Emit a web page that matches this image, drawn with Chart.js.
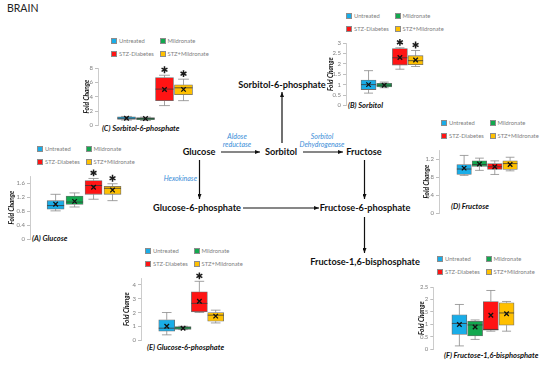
<!DOCTYPE html>
<html>
<head>
<meta charset="utf-8">
<script src="https://cdn.jsdelivr.net/npm/chart.js@4.4.1/dist/chart.umd.min.js"></script>
<style>
  body { margin:0; background:#fff; }
  #wrap { position:relative; width:550px; height:365px; overflow:hidden; font-family:Lato, sans-serif; }
  #wrap canvas, .t, .sw { position:absolute; }
  .t { white-space:nowrap; line-height:1; }
  .c { transform:translate(-50%,-50%); }
  .l { transform:translateY(-50%); }
  .r { transform:translate(-100%,-50%); }
  .node { font-weight:700; font-size:9.2px; color:#111; }
  .enz { font-style:italic; font-size:7px; color:#3b8ed8; }
  .ttl { font-weight:700; font-style:italic; font-size:7.5px; color:#111; }
  .lg { font-size:5.8px; color:#808080; }
  .sw { width:6px; height:6px; box-sizing:border-box; border:0.6px solid #8c8c8c; }
  .brain { font-size:10.5px; color:#222; }
</style>
</head>
<body>
<div id="wrap">
<svg width="550" height="365" style="position:absolute;left:0;top:0">
  <defs>
    <marker id="ah" markerWidth="5" markerHeight="4" refX="5" refY="2" orient="auto" markerUnits="userSpaceOnUse">
      <path d="M0,0 L5,2 L0,4 z" fill="#111"/>
    </marker>
  </defs>
  <g stroke="#111" stroke-width="1.2" marker-end="url(#ah)">
    <line x1="221" y1="152" x2="260" y2="152"/>
    <line x1="303" y1="152" x2="343" y2="152"/>
    <line x1="282" y1="143" x2="282" y2="92"/>
    <line x1="199.5" y1="160" x2="199.5" y2="199"/>
    <line x1="243" y1="208" x2="319" y2="208"/>
    <line x1="364.5" y1="160" x2="364.5" y2="199"/>
    <line x1="364.5" y1="217" x2="364.5" y2="253"/>
  </g>
</svg>
</div>
<script>
const groups = ['Untreated', 'Mildronate', 'STZ-Diabetes', 'STZ+Mildronate'];
const groupColors = ['#19ADE8', '#12A84E', '#FF1414', '#FFC000'];

// each box: [min, q1, median, q3, max]
const glucoseBox = [[0.81,0.86,0.96,1.10,1.28],[0.92,0.99,1.06,1.23,1.32],[1.14,1.28,1.53,1.67,1.73],[1.10,1.28,1.45,1.51,1.58]];
const glucoseMean = [1.0, 1.08, 1.48, 1.40];
const glucoseStar = [0, 0, 1, 1];
const glucoseTicks = [0,0.2,0.4,0.6,0.8,1,1.2,1.4,1.6,1.8];

const sorbitolBox = [[0.59,0.76,1.0,1.22,1.67],[0.85,0.89,0.97,1.06,1.12],[1.74,1.94,2.29,2.73,2.77],[1.87,1.96,2.15,2.39,2.64]];
const sorbitolMean = [1.0, 0.97, 2.30, 2.18];
const sorbitolStar = [0, 0, 1, 1];
const sorbitolTicks = [0,0.5,1,1.5,2,2.5,3];

const s6pBox = [[0.75,0.85,1.0,1.2,1.25],[0.7,0.8,0.95,1.1,1.15],[2.76,3.45,5.06,6.66,6.99],[3.45,4.28,5.24,5.65,6.44]];
const s6pMean = [1.0, 0.95, 5.0, 5.02];
const s6pStar = [0, 0, 1, 1];
const s6pTicks = [0,1,2,3,4,5,6,7,8];

const fructoseBox = [[0.84,0.86,0.98,1.08,1.28],[0.95,1.04,1.08,1.16,1.22],[0.86,0.97,1.03,1.10,1.16],[0.94,0.97,1.10,1.16,1.24]];
const fructoseMean = [1.0, 1.09, 1.03, 1.08];
const fructoseStar = [0, 0, 0, 0];
const fructoseTicks = [0,0.2,0.4,0.6,0.8,1,1.2,1.4];

const g6pBox = [[0.40,0.67,0.88,1.49,2.01],[0.78,0.80,0.90,1.00,1.02],[2.01,2.06,2.67,3.50,4.26],[1.26,1.38,1.82,2.01,2.18]];
const g6pMean = [1.02, 0.88, 2.82, 1.75];
const g6pStar = [0, 0, 1, 0];
const g6pTicks = [0,0.5,1,1.5,2,2.5,3,3.5,4,4.5];

const f16bpBox = [[0.14,0.60,1.04,1.39,1.80],[0.40,0.54,0.98,1.13,1.18],[0.73,0.77,0.80,1.92,2.36],[0.73,0.97,1.46,1.87,1.92]];
const f16bpMean = [1.0, 0.90, 1.37, 1.43];
const f16bpStar = [0, 0, 0, 0];
const f16bpTicks = [0,0.5,1,1.5,2,2.5];

const wrap = document.getElementById('wrap');
function put(txt, x, y, cls) {
  const d = document.createElement('div');
  d.className = 't ' + cls;
  d.textContent = txt;
  d.style.left = x + 'px';
  d.style.top = y + 'px';
  wrap.appendChild(d);
}

// pathway
put('BRAIN', 7, 8, 'brain l');
put('Sorbitol-6-phosphate', 282, 85, 'node c');
put('Glucose', 199, 152, 'node c');
put('Sorbitol', 281, 152, 'node c');
put('Fructose', 364, 152, 'node c');
put('Glucose-6-phosphate', 197, 208, 'node c');
put('Fructose-6-phosphate', 365, 208, 'node c');
put('Fructose-1,6-bisphosphate', 365, 262, 'node c');
put('Aldose', 237, 136, 'enz c');
put('reductase', 237, 144, 'enz c');
put('Sorbitol', 322, 136, 'enz c');
put('Dehydrogenase', 322, 144, 'enz c');
put('Hexokinase', 197, 178, 'enz r');

const panels = [
  {id:'A', box:glucoseBox, mean:glucoseMean, star:glucoseStar, ticks:glucoseTicks, title:'(A) Glucose',
   axisX:30, top:176, zero:240, first:57, gap:20, barW:17, fcX:12, lg:[37,149], tx:32, ty:239},
  {id:'B', box:sorbitolBox, mean:sorbitolMean, star:sorbitolStar, ticks:sorbitolTicks, title:'(B) Sorbitol',
   axisX:346, top:43.3, zero:106.7, first:370, gap:16.7, barW:15, fcX:331, lg:[346,16], tx:348, ty:106},
  {id:'C', box:s6pBox, mean:s6pMean, star:s6pStar, ticks:s6pTicks, title:'(C) Sorbitol-6-phosphate',
   axisX:98, top:68, zero:126, first:128, gap:20, barW:18, fcX:86.5, lg:[111,41], tx:102, ty:129},
  {id:'D', box:fructoseBox, mean:fructoseMean, star:fructoseStar, ticks:fructoseTicks, title:'(D) Fructose',
   axisX:439, top:149.7, zero:213.3, first:465.7, gap:16.3, barW:14.5, fcX:427, lg:[441,123], tx:451, ty:207},
  {id:'E', box:g6pBox, mean:g6pMean, star:g6pStar, ticks:g6pTicks, title:'(E) Glucose-6-phosphate',
   axisX:141, top:278.3, zero:341.7, first:168.3, gap:17.3, barW:16, fcX:127, lg:[145,251], tx:147, ty:348},
  {id:'F', box:f16bpBox, mean:f16bpMean, star:f16bpStar, ticks:f16bpTicks, title:'(F) Fructose-1,6-bisphosphate',
   axisX:433.3, top:286.7, zero:349.3, first:461, gap:16.7, barW:15, fcX:421.7, lg:[437,259], tx:444, ty:356}
];

function drawPanel(p) {
  // legend 2x2
  groups.forEach((g, i) => {
    const x = p.lg[0] + (i & 1) * 48.5, y = p.lg[1] + (i >> 1) * 12.7;
    const s = document.createElement('div');
    s.className = 'sw';
    s.style.left = x + 'px'; s.style.top = (y - 3) + 'px';
    s.style.background = groupColors[i];
    wrap.appendChild(s);
    put(g, x + 8, y, 'lg l');
  });
  put(p.title, p.tx, p.ty, 'ttl l');

  const left = Math.round(p.fcX - 3.9);
  const yw = p.axisX - left;
  const padTop = 12;
  const cv = document.createElement('canvas');
  cv.width = Math.round(yw + (p.first - p.axisX) + p.gap * 3.8);
  cv.height = Math.round(padTop + (p.zero - p.top) + 5);
  const padBot = cv.height - padTop - (p.zero - p.top);
  cv.style.left = left + 'px';
  cv.style.top = Math.round(p.top - padTop) + 'px';
  wrap.appendChild(cv);
  const xmin = -(p.first - p.axisX) / p.gap;
  const xmax = xmin + (cv.width - yw) / p.gap;

  const plug = {
    id: 'box' + p.id,
    beforeDatasetsDraw(chart) {
      const {ctx, scales: {x, y}} = chart;
      ctx.save();
      ctx.strokeStyle = '#8a8a8a';
      ctx.lineWidth = 0.8;
      p.box.forEach((b, i) => {
        const cx = x.getPixelForValue(i), cw = p.barW * 0.3;
        ctx.beginPath();
        ctx.moveTo(cx, y.getPixelForValue(b[0])); ctx.lineTo(cx, y.getPixelForValue(b[1]));
        ctx.moveTo(cx, y.getPixelForValue(b[3])); ctx.lineTo(cx, y.getPixelForValue(b[4]));
        ctx.moveTo(cx - cw, y.getPixelForValue(b[0])); ctx.lineTo(cx + cw, y.getPixelForValue(b[0]));
        ctx.moveTo(cx - cw, y.getPixelForValue(b[4])); ctx.lineTo(cx + cw, y.getPixelForValue(b[4]));
        ctx.stroke();
      });
      ctx.restore();
    },
    afterDatasetDraw(chart, args) {
      if (args.meta.type !== 'bar') return;
      const {ctx, scales: {x, y}} = chart;
      ctx.save();
      ctx.strokeStyle = '#3a3a3a';
      ctx.lineWidth = 0.8;
      p.box.forEach((b, i) => {
        const cx = x.getPixelForValue(i), my = y.getPixelForValue(b[2]);
        ctx.beginPath();
        ctx.moveTo(cx - p.barW / 2, my); ctx.lineTo(cx + p.barW / 2, my);
        ctx.stroke();
      });
      ctx.restore();
    },
    afterDatasetsDraw(chart) {
      const {ctx, scales: {x, y}} = chart;
      ctx.save();
      ctx.strokeStyle = '#1a1a1a';
      ctx.lineWidth = 1.5;
      p.box.forEach((b, i) => {
        if (!p.star[i]) return;
        const cx = x.getPixelForValue(i), cy = y.getPixelForValue(b[4]) - 5.5;
        ctx.beginPath();
        [90, 30, 150].forEach(a => {
          const r = a * Math.PI / 180, dx = Math.cos(r) * 3.4, dy = Math.sin(r) * 3.4;
          ctx.moveTo(cx - dx, cy - dy); ctx.lineTo(cx + dx, cy + dy);
        });
        ctx.stroke();
      });
      ctx.restore();
    }
  };

  new Chart(cv, {
    type: 'bar',
    data: {
      datasets: [
        {
          type: 'bar', order: 2,
          data: p.box.map((b, i) => ({x: i, y: [b[1], b[3]]})),
          backgroundColor: groupColors,
          borderColor: '#6e6e6e', borderWidth: 0.8, borderSkipped: false,
          barThickness: p.barW
        },
        {
          type: 'line', order: 1, showLine: false,
          data: p.mean.map((m, i) => ({x: i, y: m})),
          pointStyle: 'crossRot', pointRadius: 3.2,
          borderColor: '#111', pointBorderWidth: 1.3
        }
      ]
    },
    options: {
      responsive: false, animation: false, devicePixelRatio: 1, events: [],
      layout: {padding: {top: padTop, bottom: padBot, left: 0, right: 0}},
      plugins: {legend: {display: false}, tooltip: {enabled: false}},
      scales: {
        x: {type: 'linear', display: false, offset: false, min: xmin, max: xmax},
        y: {
          min: 0, max: p.ticks[p.ticks.length - 1],
          afterBuildTicks: s => { s.ticks = p.ticks.map(v => ({value: v})); },
          afterFit: s => { s.width = yw; },
          border: {color: '#bfbfbf', width: 0.8},
          grid: {drawOnChartArea: false, drawTicks: true, tickLength: 3, color: '#bfbfbf'},
          ticks: {color: '#808080', font: {family: 'Lato', size: 6}, padding: 2,
                  callback: v => String(+Number(v).toFixed(2))},
          title: {display: true, text: 'Fold Change', color: '#111', padding: 0,
                  font: {family: 'Lato', size: 6.5, weight: 'bold', style: 'italic', lineHeight: 1.2}}
        }
      }
    },
    plugins: [plug]
  });
}

panels.forEach(drawPanel);
</script>
</body>
</html>
